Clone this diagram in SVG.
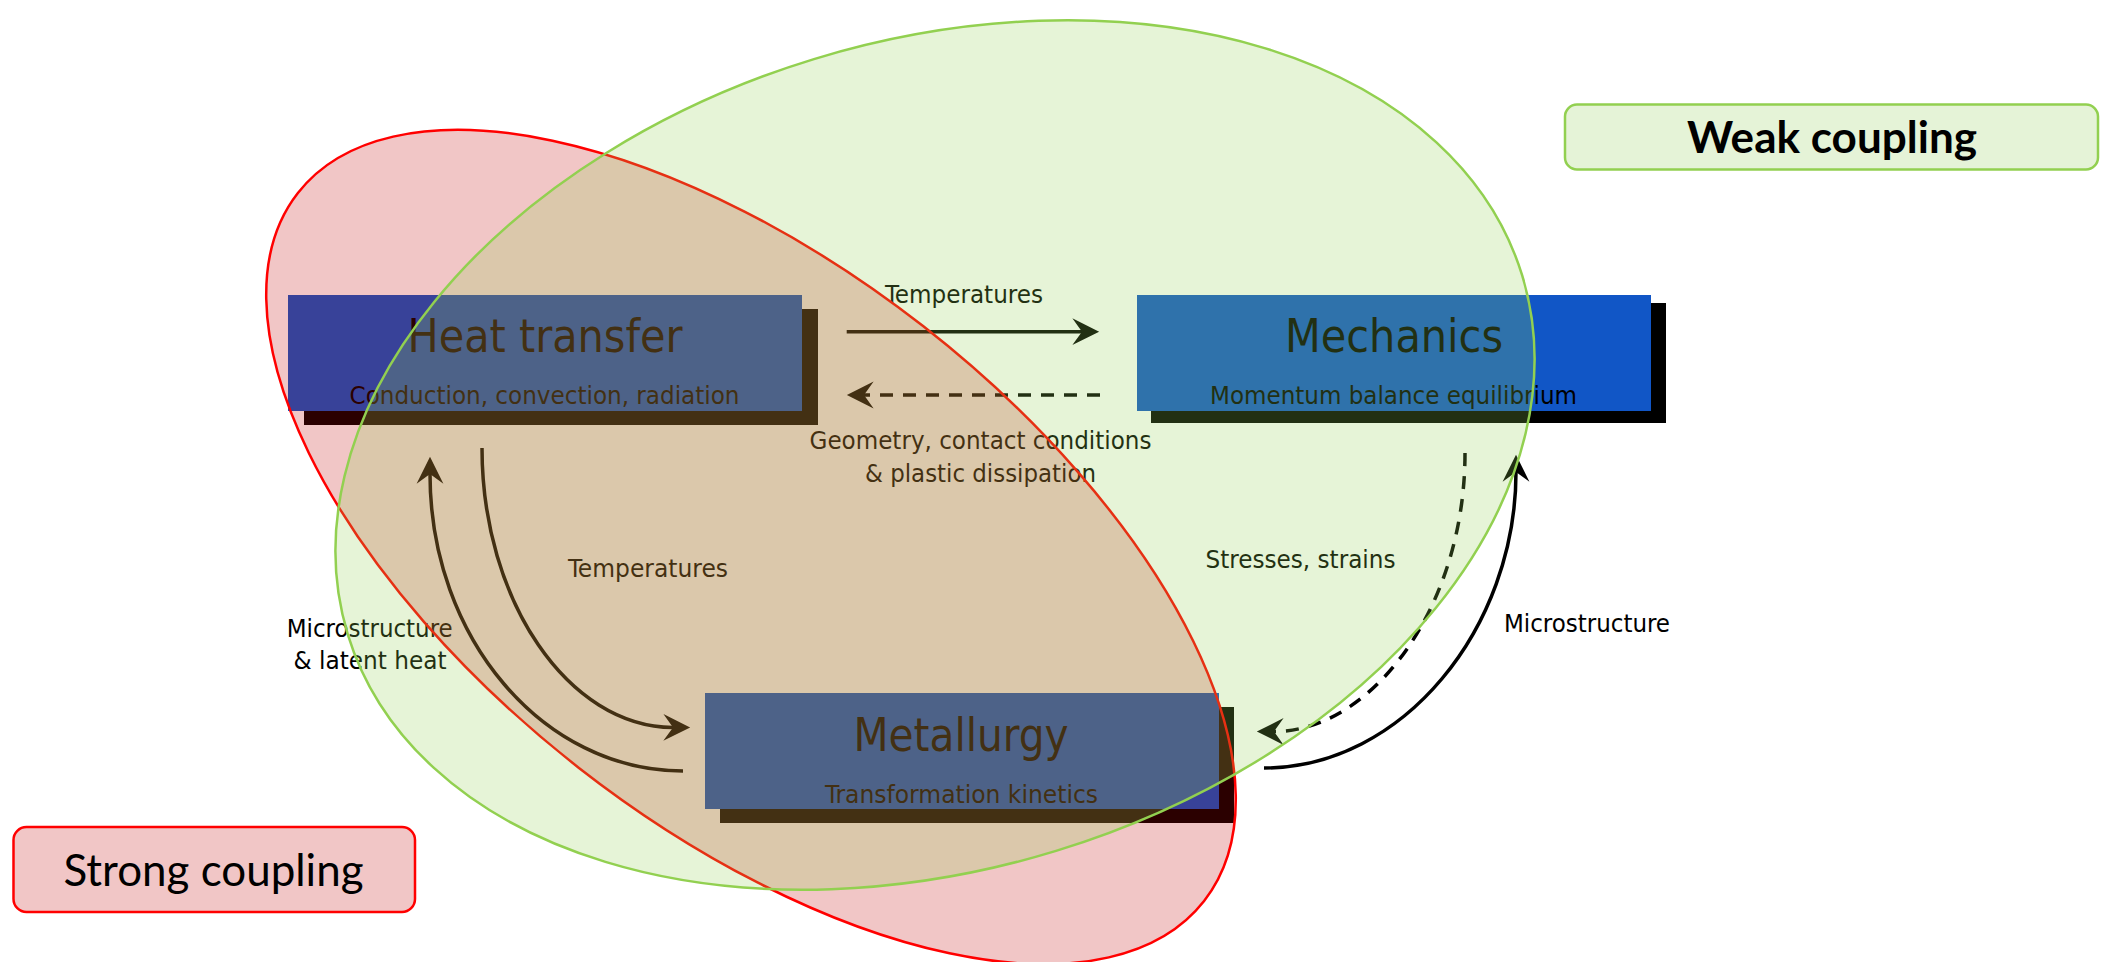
<svg xmlns="http://www.w3.org/2000/svg" width="2105" height="962" viewBox="0 0 2105 962">
<defs>
<style>
.box{fill:#1156c6}
.shadow{fill:#000}
.title{font-family:"DejaVu Sans Condensed","DejaVu Sans",sans-serif;font-size:47px;fill:#000;text-anchor:middle}
.sub{font-family:"DejaVu Sans Condensed","DejaVu Sans",sans-serif;font-size:25px;fill:#000;text-anchor:middle}
.lbl{font-family:"DejaVu Sans Condensed","DejaVu Sans",sans-serif;font-size:24px;fill:#000;text-anchor:middle}
.conn{fill:none;stroke:#000;stroke-width:3.5}
.dash{stroke-dasharray:13 10}
.legend{font-family:Lato,"Noto Sans",sans-serif;font-size:44px;fill:#000;text-anchor:middle}
</style>
<marker id="ah" markerUnits="userSpaceOnUse" markerWidth="30" markerHeight="30" viewBox="-1 -14 28 28" refX="9" refY="0" orient="auto">
<path d="M0,-12.5 L25,0 L0,12.5 L9,0 Z" fill="#000"/>
</marker>
</defs>
<rect width="2105" height="962" fill="#fff"/>

<g id="node-heat">
<rect class="shadow" x="304" y="309" width="514" height="116"/>
<rect class="box" x="288" y="295" width="514" height="116"/>
<text class="title" x="545" y="351.7" textLength="275" lengthAdjust="spacingAndGlyphs">Heat transfer</text>
<text class="sub" x="544.5" y="404" textLength="390" lengthAdjust="spacingAndGlyphs">Conduction, convection, radiation</text>
</g>

<g id="node-mech">
<rect class="shadow" x="1151" y="303" width="515" height="120"/>
<rect class="box" x="1137" y="295" width="514" height="116"/>
<text class="title" x="1394" y="351.7" textLength="218" lengthAdjust="spacingAndGlyphs">Mechanics</text>
<text class="sub" x="1393.5" y="404" textLength="367" lengthAdjust="spacingAndGlyphs">Momentum balance equilibrium</text>
</g>

<g id="node-metal">
<rect class="shadow" x="720" y="707" width="514" height="116"/>
<rect class="box" x="705" y="693" width="514" height="116"/>
<text class="title" x="961" y="750.7" textLength="215" lengthAdjust="spacingAndGlyphs">Metallurgy</text>
<text class="sub" x="961.5" y="802.5" textLength="273" lengthAdjust="spacingAndGlyphs">Transformation kinetics</text>
</g>

<g id="connectors">
<path class="conn" d="M846.7,331.7 H1082" marker-end="url(#ah)"/>
<path class="conn dash" d="M1100,395 H864" marker-end="url(#ah)"/>
<path class="conn" d="M482,448 C482,600 568,727 673,727.5" marker-end="url(#ah)"/>
<path class="conn" d="M683,771 C543,771 430,638 430,474" marker-end="url(#ah)"/>
<path class="conn dash" d="M1465,453 C1465,607 1372,731.5 1274,731.5" marker-end="url(#ah)"/>
<path class="conn" d="M1264,768 C1403,768 1516,628 1516,472" marker-end="url(#ah)"/>
</g>

<g id="connector-labels">
<text class="lbl" x="964" y="302.7" textLength="158" lengthAdjust="spacingAndGlyphs">Temperatures</text>
<text class="lbl" x="980.5" y="449" textLength="342" lengthAdjust="spacingAndGlyphs">Geometry, contact conditions</text>
<text class="lbl" x="980.5" y="481.5" textLength="231" lengthAdjust="spacingAndGlyphs">&amp; plastic dissipation</text>
<text class="lbl" x="648" y="576.7" textLength="160" lengthAdjust="spacingAndGlyphs">Temperatures</text>
<text class="lbl" x="369.7" y="637.3" textLength="166" lengthAdjust="spacingAndGlyphs">Microstructure</text>
<text class="lbl" x="370" y="669.3" textLength="153" lengthAdjust="spacingAndGlyphs">&amp; latent heat</text>
<text class="lbl" x="1300.5" y="567.7" textLength="190" lengthAdjust="spacingAndGlyphs">Stresses, strains</text>
<text class="lbl" x="1587" y="631.7" textLength="166" lengthAdjust="spacingAndGlyphs">Microstructure</text>
</g>

<g id="regions">
<ellipse id="strong-region" cx="751" cy="547" rx="575" ry="280" transform="rotate(38 751 547)" fill="#c00000" fill-opacity="0.224" stroke="#ff0000" stroke-width="2.5"/>
<ellipse id="weak-region" cx="935" cy="455" rx="614" ry="414" transform="rotate(-17 935 455)" fill="#92d050" fill-opacity="0.23" stroke="#92d050" stroke-width="2.5"/>
</g>

<g id="legend-strong">
<rect x="13.5" y="827" width="401.5" height="85" rx="13" fill="#f1c6c6" stroke="#ff0000" stroke-width="2.5"/>
<text class="legend" x="213.5" y="886" textLength="300" lengthAdjust="spacingAndGlyphs">Strong coupling</text>
</g>
<g id="legend-weak">
<rect x="1565" y="104.5" width="533" height="65" rx="12" fill="#e5f3d7" stroke="#92d050" stroke-width="2.5"/>
<text class="legend" x="1832" y="152.5" font-weight="bold" textLength="290" lengthAdjust="spacingAndGlyphs">Weak coupling</text>
</g>
</svg>
